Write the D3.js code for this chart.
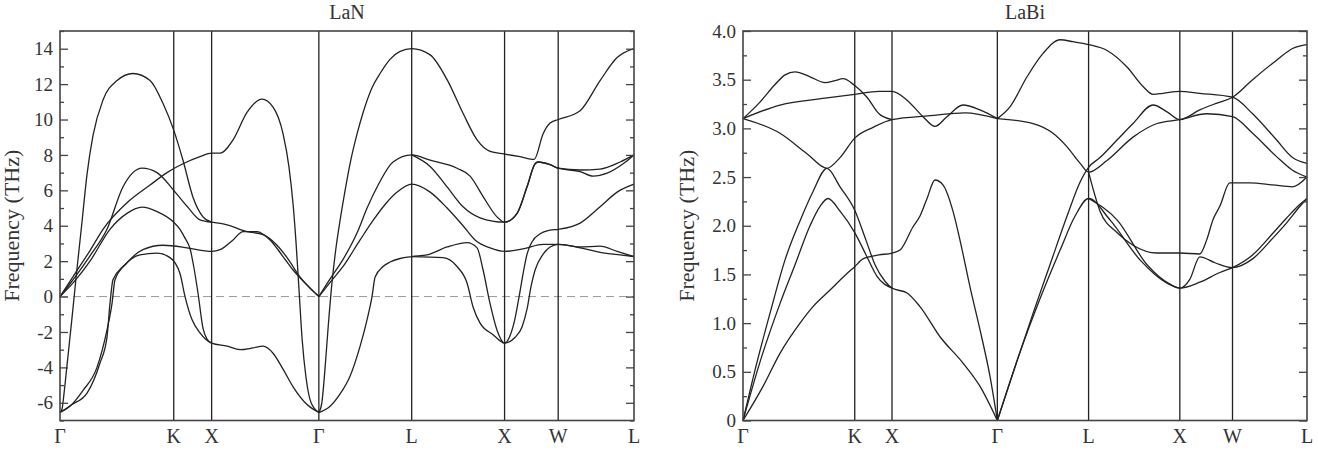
<!DOCTYPE html>
<html>
<head>
<meta charset="utf-8">
<script src="https://cdn.jsdelivr.net/npm/d3@7"></script>
<style>
  body { margin: 0; background: #fff; }
  text { font-family: "Liberation Serif", "Times New Roman", serif; fill: #333; }
</style>
</head>
<body>
<svg id="chart" width="1318" height="454"></svg>
<script>
// high-symmetry path (distance along path, units of 2pi/a)
const kLabels = ["Γ", "K", "X", "Γ", "L", "X", "W", "L"];
const kPos = [0, 1.0607, 1.4142, 2.4142, 3.2802, 4.1463, 4.6463, 5.3534];

// LaN phonon branches, [k, frequency THz]
const lanBands = [
  [[0,-6.55],[0.019,-6.35],[0.037,-5.5],[0.065,-3.9],[0.112,-1.2],[0.159,1.6],[0.205,4.2],[0.252,6.9],[0.308,9.1],[0.401,11.1],[0.532,12.2],[0.681,12.6],[0.84,12.2],[0.961,10.9],[1.0607,9.4],[1.147,7.7],[1.241,5.6],[1.334,4.5],[1.4142,4.2]],
  [[0,0],[0.14,1.3],[0.28,2.6],[0.401,3.8],[0.625,5.3],[0.84,6.3],[0.998,7.0],[1.147,7.5],[1.306,7.9],[1.4142,8.1],[1.493,8.1],[1.614,8.85],[1.744,10.4],[1.884,11.15],[1.987,10.7],[2.08,9.2],[2.136,7.3],[2.174,5.2],[2.202,3.0],[2.23,0.3],[2.258,-2.4],[2.295,-4.6],[2.342,-6.0],[2.4142,-6.55]],
  [[0,0],[0.14,1.1],[0.28,2.3],[0.438,3.8],[0.588,6.2],[0.765,7.25],[0.905,7.0],[1.0607,6.0],[1.185,5.1],[1.306,4.33],[1.4142,4.2]],
  [[0,0],[0.14,0.9],[0.28,2.0],[0.466,3.8],[0.625,4.7],[0.765,5.05],[0.905,4.8],[1.0607,4.2],[1.119,3.8],[1.166,3.3],[1.213,2.7],[1.25,1.6],[1.287,0.2],[1.334,-1.8],[1.371,-2.4],[1.4142,-2.63]],
  [[0,-6.55],[0.093,-6.2],[0.215,-5.3],[0.345,-4.0],[0.438,-1.9],[0.485,-0.4],[0.513,0.95],[0.625,1.9],[0.774,2.65],[0.961,2.9],[1.185,2.75],[1.334,2.6],[1.4142,2.55],[1.493,2.65],[1.614,3.2],[1.707,3.67],[1.838,3.67],[1.959,3.2],[2.08,2.26],[2.174,1.5],[2.304,0.66],[2.4142,0]],
  [[0,-6.55],[0.112,-6.1],[0.252,-5.45],[0.373,-3.75],[0.438,-2.3],[0.466,-0.4],[0.494,0.95],[0.588,1.7],[0.746,2.35],[0.905,2.45],[1.026,2.2],[1.119,1.3],[1.166,0],[1.231,-1.3],[1.306,-2.05],[1.4142,-2.63],[1.558,-2.8],[1.679,-3.0],[1.8,-2.9],[1.894,-2.8],[1.987,-3.2],[2.08,-4.1],[2.174,-5.1],[2.304,-6.1],[2.4142,-6.55]],
  [[1.4142,4.2],[1.558,4.05],[1.744,3.67],[1.894,3.5],[2.024,2.9],[2.118,2.2],[2.239,1.1],[2.4142,0]],
  [[2.4142,-6.55],[2.442,-6.0],[2.47,-4.2],[2.5,-1.8],[2.537,0.8],[2.575,2.8],[2.612,4.3],[2.659,6.0],[2.705,7.5],[2.771,9.2],[2.827,10.4],[2.91,11.8],[2.985,12.6],[3.078,13.4],[3.172,13.85],[3.2802,14.0],[3.452,13.65],[3.61,12.25],[3.759,10.35],[3.89,8.85],[4.011,8.2],[4.1463,8.05],[4.291,7.9],[4.422,7.75],[4.506,9.2],[4.571,9.8],[4.6463,10.0],[4.851,10.5],[5.037,12.2],[5.196,13.5],[5.3534,14.0]],
  [[2.4142,-6.55],[2.519,-6.2],[2.612,-5.5],[2.705,-4.5],[2.799,-2.8],[2.864,-1.3],[2.91,0],[2.939,1.1],[3.013,1.7],[3.078,1.95],[3.172,2.15],[3.2802,2.26],[3.424,2.35],[3.61,2.8],[3.797,3.05],[3.89,2.75],[3.946,1.5],[4.011,-0.4],[4.076,-1.9],[4.1463,-2.63],[4.198,-2.2],[4.245,-1.2],[4.282,0],[4.319,1.3],[4.356,2.4],[4.403,3.1],[4.478,3.55],[4.571,3.75],[4.6463,3.8],[4.851,4.15],[5.037,5.07],[5.196,5.9],[5.3534,6.35]],
  [[3.2802,2.26],[3.573,2.2],[3.703,1.7],[3.797,0.75],[3.853,-0.6],[3.918,-1.5],[4.039,-2.15],[4.1463,-2.63],[4.245,-2.3],[4.31,-1.7],[4.356,-0.7],[4.394,0.6],[4.431,1.5],[4.506,2.4],[4.571,2.8],[4.6463,2.95],[4.851,2.75],[5.037,2.5],[5.224,2.35],[5.3534,2.26]],
  [[2.4142,0],[2.519,0.8],[2.64,1.7],[2.799,3.2],[2.92,4.3],[3.032,5.2],[3.144,5.9],[3.2802,6.35],[3.452,5.9],[3.61,5.0],[3.759,4.0],[3.871,3.2],[4.011,2.75],[4.1463,2.55],[4.319,2.7],[4.506,2.95],[4.6463,2.95],[4.851,2.8],[5.037,2.85],[5.196,2.55],[5.3534,2.26]],
  [[2.4142,0],[2.519,1.0],[2.64,2.1],[2.771,3.6],[2.864,5.0],[2.967,6.3],[3.106,7.6],[3.2802,8.0],[3.452,7.7],[3.703,7.25],[3.825,6.8],[3.946,5.65],[4.076,4.5],[4.1463,4.2],[4.263,4.7],[4.356,6.2],[4.431,7.5],[4.459,7.6],[4.571,7.45],[4.6463,7.25],[4.851,7.06],[4.972,6.8],[5.103,6.97],[5.252,7.5],[5.3534,8.0]],
  [[3.2802,8.0],[3.452,7.35],[3.61,6.2],[3.759,5.07],[3.918,4.45],[4.1463,4.2],[4.263,4.7],[4.356,6.2],[4.431,7.5],[4.459,7.6],[4.571,7.45],[4.6463,7.25],[4.851,7.15],[5.037,7.2],[5.224,7.6],[5.3534,8.0]]
];

// LaBi phonon branches, [k, frequency THz]
const labiBands = [
  [[0,3.1],[0.161,3.27],[0.304,3.45],[0.399,3.55],[0.494,3.58],[0.636,3.53],[0.778,3.47],[0.873,3.49],[0.949,3.51],[1.0607,3.44],[1.177,3.32],[1.291,3.15],[1.4142,3.09]],
  [[0,3.1],[0.351,3.24],[0.778,3.31],[1.0607,3.35],[1.291,3.38],[1.4142,3.38],[1.557,3.29],[1.709,3.12],[1.822,3.02],[1.936,3.12],[2.088,3.24],[2.25,3.19],[2.4142,3.1]],
  [[0,3.1],[0.351,2.95],[0.607,2.74],[0.797,2.59],[0.921,2.7],[1.0607,2.9],[1.234,3.01],[1.4142,3.09],[1.775,3.13],[2.107,3.16],[2.4142,3.1]],
  [[0,0],[0.133,0.6],[0.256,1.1],[0.399,1.65],[0.541,2.05],[0.664,2.35],[0.797,2.59],[0.921,2.4],[1.0607,2.16],[1.168,1.85],[1.253,1.6],[1.348,1.43],[1.4142,1.36],[1.557,1.31],[1.68,1.17],[1.87,0.86],[2.088,0.59],[2.25,0.35],[2.4142,0]],
  [[0,0],[0.161,0.6],[0.351,1.2],[0.494,1.6],[0.636,2.0],[0.731,2.2],[0.807,2.28],[0.921,2.15],[1.0607,1.93],[1.168,1.7],[1.272,1.48],[1.4142,1.36]],
  [[0,0],[0.19,0.35],[0.351,0.69],[0.541,1.0],[0.664,1.17],[0.826,1.34],[0.987,1.51],[1.0607,1.58],[1.139,1.66],[1.291,1.7],[1.4142,1.72],[1.49,1.75],[1.614,1.99],[1.68,2.1],[1.747,2.28],[1.822,2.47],[1.898,2.42],[1.993,2.15],[2.06,1.85],[2.155,1.37],[2.25,0.93],[2.345,0.45],[2.4142,0]],
  [[2.4142,3.1],[2.534,3.22],[2.696,3.53],[2.848,3.77],[3.01,3.91],[3.133,3.89],[3.2802,3.86],[3.455,3.8],[3.645,3.63],[3.797,3.43],[3.892,3.35],[3.987,3.36],[4.1463,3.38],[4.336,3.36],[4.6463,3.32],[4.837,3.15],[5.065,2.88],[5.216,2.7],[5.3534,2.64]],
  [[2.4142,3.1],[2.753,3.05],[2.943,2.95],[3.076,2.81],[3.2,2.64],[3.2802,2.55],[3.455,2.67],[3.702,2.91],[3.93,3.05],[4.1463,3.09],[4.403,3.15],[4.6463,3.12],[4.837,2.95],[5.065,2.71],[5.216,2.57],[5.3534,2.5]],
  [[3.2802,2.55],[3.389,2.15],[3.55,1.93],[3.702,1.8],[3.93,1.72],[4.1463,1.72],[4.336,1.71],[4.403,1.86],[4.46,2.06],[4.526,2.2],[4.621,2.44],[4.6463,2.44],[4.808,2.44],[5.027,2.42],[5.216,2.4],[5.3534,2.5]],
  [[2.4142,0],[2.582,0.55],[2.753,1.1],[2.914,1.6],[3.076,2.1],[3.2,2.45],[3.2802,2.6],[3.389,2.7],[3.55,2.88],[3.702,3.05],[3.892,3.24],[4.025,3.17],[4.1463,3.09],[4.336,3.19],[4.499,3.26],[4.6463,3.32],[4.837,3.5],[5.065,3.7],[5.216,3.82],[5.3534,3.86]],
  [[2.4142,0],[2.629,0.7],[2.819,1.25],[3.01,1.75],[3.152,2.1],[3.2802,2.28],[3.483,2.06],[3.768,1.65],[4.025,1.41],[4.1463,1.36],[4.336,1.42],[4.526,1.52],[4.6463,1.57],[4.837,1.7],[5.027,1.92],[5.16,2.08],[5.287,2.22],[5.3534,2.28]],
  [[3.2802,2.28],[3.55,2.06],[3.835,1.6],[4.053,1.4],[4.1463,1.36],[4.241,1.45],[4.336,1.68],[4.48,1.62],[4.6463,1.57],[4.837,1.66],[5.027,1.87],[5.16,2.03],[5.287,2.2],[5.3534,2.28]]
];

const lanTicks = [-6, -4, -2, 0, 2, 4, 6, 8, 10, 12, 14];
const lanMinor = [-7, -5, -3, -1, 1, 3, 5, 7, 9, 11, 13, 15];
const labiTicks = [0, 0.5, 1.0, 1.5, 2.0, 2.5, 3.0, 3.5, 4.0];
const labiMinor = [0.25, 0.75, 1.25, 1.75, 2.25, 2.75, 3.25, 3.75];

const svg = d3.select("#chart");
const plotTop = 31, plotBottom = 420.5;

function drawPanel(p) {
  const x = d3.scaleLinear().domain([0, kPos[kPos.length - 1]]).range([p.left, p.right]);
  const y = d3.scaleLinear().domain(p.domain).range([plotBottom, plotTop]);
  const g = svg.append("g");

  // zero line
  if (p.zeroLine) {
    g.append("line")
      .attr("x1", p.left).attr("x2", p.right)
      .attr("y1", y(0)).attr("y2", y(0))
      .attr("stroke", "#999").attr("stroke-width", 1)
      .attr("stroke-dasharray", "8,5");
  }

  // vertical lines at high-symmetry points
  g.selectAll(".kline")
    .data(kPos.slice(1, -1))
    .join("line")
    .attr("x1", d => x(d)).attr("x2", d => x(d))
    .attr("y1", plotTop).attr("y2", plotBottom)
    .attr("stroke", "#222").attr("stroke-width", 1.3);

  // bands
  const line = d3.line()
    .x(d => x(d[0]))
    .y(d => y(d[1]))
    .curve(d3.curveMonotoneX);
  g.selectAll(".band")
    .data(p.bands)
    .join("path")
    .attr("d", line)
    .attr("fill", "none")
    .attr("stroke", "#222")
    .attr("stroke-width", 1.3);

  // y axes, ticks inside on both sides
  const yl = g.append("g").attr("transform", `translate(${p.left},0)`)
    .call(d3.axisLeft(y).tickValues(p.ticks).tickSizeInner(-8).tickSizeOuter(0)
      .tickPadding(7).tickFormat(p.fmt));
  yl.select(".domain").remove();
  yl.selectAll("text").style("font-size", "19px").attr("fill", "#333")
    .style("font-family", '"Liberation Serif", serif');
  yl.selectAll("line").attr("stroke", "#444").attr("stroke-width", 1.3);

  const ylm = g.append("g").attr("transform", `translate(${p.left},0)`)
    .call(d3.axisLeft(y).tickValues(p.minor).tickSizeInner(-4).tickSizeOuter(0).tickFormat(""));
  ylm.select(".domain").remove();
  ylm.selectAll("line").attr("stroke", "#444").attr("stroke-width", 1.3);

  const yr = g.append("g").attr("transform", `translate(${p.right},0)`)
    .call(d3.axisRight(y).tickValues(p.ticks).tickSizeInner(-8).tickSizeOuter(0).tickFormat(""));
  yr.select(".domain").remove();
  yr.selectAll("line").attr("stroke", "#444").attr("stroke-width", 1.3);

  const yrm = g.append("g").attr("transform", `translate(${p.right},0)`)
    .call(d3.axisRight(y).tickValues(p.minor).tickSizeInner(-4).tickSizeOuter(0).tickFormat(""));
  yrm.select(".domain").remove();
  yrm.selectAll("line").attr("stroke", "#444").attr("stroke-width", 1.3);

  // frame
  g.append("rect")
    .attr("x", p.left).attr("y", plotTop)
    .attr("width", p.right - p.left).attr("height", plotBottom - plotTop)
    .attr("fill", "none").attr("stroke", "#444").attr("stroke-width", 1.6);

  // k-point labels
  g.selectAll(".klabel")
    .data(kLabels)
    .join("text")
    .attr("x", (d, i) => x(kPos[i]))
    .attr("y", 443)
    .attr("text-anchor", "middle")
    .style("font-size", "20px")
    .text(d => d);

  // title
  g.append("text")
    .attr("x", (p.left + p.right) / 2).attr("y", 19)
    .attr("text-anchor", "middle")
    .style("font-size", "20px")
    .text(p.title);

  // y title
  g.append("text")
    .attr("transform", `translate(${p.titleX},${(plotTop + plotBottom) / 2}) rotate(-90)`)
    .attr("text-anchor", "middle")
    .attr("dominant-baseline", "central")
    .style("font-size", "22px")
    .text("Frequency (THz)");
}

drawPanel({
  title: "LaN", left: 60, right: 634, domain: [-7, 15],
  ticks: lanTicks, minor: lanMinor, fmt: d => String(d),
  bands: lanBands, zeroLine: true, titleX: 11
});

drawPanel({
  title: "LaBi", left: 743, right: 1307, domain: [0, 4],
  ticks: labiTicks, minor: labiMinor, fmt: d => d === 0 ? "0" : d.toFixed(1),
  bands: labiBands, zeroLine: false, titleX: 686
});
</script>
</body>
</html>
